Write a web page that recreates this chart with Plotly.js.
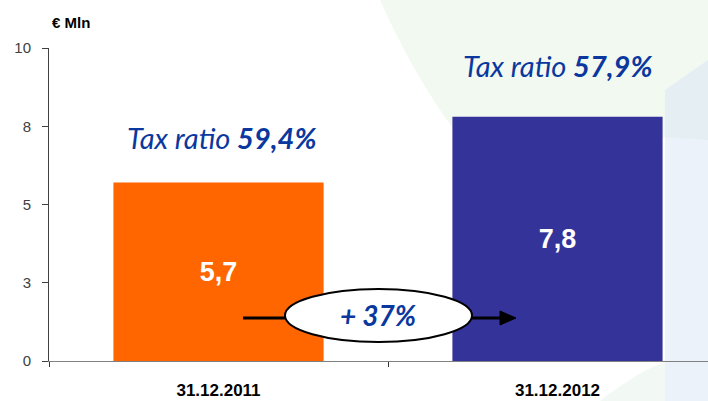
<!DOCTYPE html>
<html>
<head>
<meta charset="utf-8">
<script src="https://cdn.plot.ly/plotly-3.0.1.min.js"></script>
<style>html,body{margin:0;padding:0;background:#fff;}#chart{width:708px;height:401px;}</style>
</head>
<body>
<div id="chart"></div>
<script>
// ---- data ----
const categories = ['31.12.2011', '31.12.2012'];
const values = [5.7, 7.8];
const valueLabels = ['5,7', '7,8'];
const barColors = ['#FF6600', '#333399'];
const taxRatios = ['59,4%', '57,9%'];
const growthLabel = '+ 37%';
const yTickVals = [0, 2.5, 5, 7.5, 10];
const yTickText = ['0', '3', '5', '8', '10'];
const unitLabel = '€ Mln';

// ---- layout helpers (pixel -> paper) ----
const W = 708, H = 401, ML = 49, MR = 0, MT = 48, MB = 40;
const PW = W - ML - MR, PH = H - MT - MB;
const px = p => (p - ML) / PW;
const py = p => (H - MB - p) / PH;

const blue = '#0A389E';

const trace = {
  type: 'bar',
  x: categories,
  y: values,
  text: valueLabels,
  textposition: 'inside',
  insidetextanchor: 'middle',
  textangle: 0,
  textfont: {family: 'Liberation Sans, Arial, sans-serif', size: 27, color: '#ffffff', weight: 'bold'},
  marker: {color: barColors, line: {width: 0}},
  width: 0.62,
  hoverinfo: 'none'
};

const shapes = [
  // faint background decoration
  {type: 'path', xref: 'paper', yref: 'paper', layer: 'below',
   path: `M ${px(380)} ${py(0)} L ${px(708)} ${py(0)} L ${px(708)} ${py(140)} Q ${px(600)} ${py(130)} ${px(470)} ${py(150)} Q ${px(420)} ${py(90)} ${px(380)} ${py(0)} Z`,
   fillcolor: '#e3f1e0', opacity: 0.45, line: {width: 0}},
  {type: 'path', xref: 'paper', yref: 'paper', layer: 'below',
   path: `M ${px(665)} ${py(90)} L ${px(708)} ${py(60)} L ${px(708)} ${py(401)} L ${px(665)} ${py(401)} Z`,
   fillcolor: '#dbe8f4', opacity: 0.55, line: {width: 0}},
  {type: 'path', xref: 'paper', yref: 'paper', layer: 'below',
   path: `M ${px(600)} ${py(401)} Q ${px(640)} ${py(370)} ${px(665)} ${py(362)} L ${px(665)} ${py(401)} Z`,
   fillcolor: '#e6f1e8', opacity: 0.5, line: {width: 0}},
  // growth arrow
  {type: 'line', xref: 'paper', yref: 'paper',
   x0: px(243), x1: px(290), y0: py(318), y1: py(318), line: {color: '#000', width: 3}},
  {type: 'line', xref: 'paper', yref: 'paper',
   x0: px(468), x1: px(502), y0: py(318), y1: py(318), line: {color: '#000', width: 3}},
  {type: 'path', xref: 'paper', yref: 'paper',
   path: `M ${px(516)} ${py(318)} L ${px(500)} ${py(311)} L ${px(500)} ${py(325)} Z`,
   fillcolor: '#000', line: {color: '#000', width: 1}},
  {type: 'circle', xref: 'paper', yref: 'paper',
   x0: px(285), x1: px(472), y0: py(342), y1: py(289),
   fillcolor: '#ffffff', line: {color: '#000', width: 2}}
];

const annotations = [
  {xref: 'paper', yref: 'paper', x: px(50), y: py(22), xanchor: 'left', yanchor: 'middle',
   text: '<b>' + unitLabel + '</b>', showarrow: false,
   font: {family: 'Liberation Sans, Arial, sans-serif', size: 15, color: '#000'}},
  {xref: 'paper', yref: 'paper', x: px(221), y: py(137), xanchor: 'center', yanchor: 'middle',
   text: '<i>Tax ratio <b>' + taxRatios[0] + '</b></i>', showarrow: false,
   font: {family: 'Lato, sans-serif', size: 29, color: blue}},
  {xref: 'paper', yref: 'paper', x: px(557), y: py(65), xanchor: 'center', yanchor: 'middle',
   text: '<i>Tax ratio <b>' + taxRatios[1] + '</b></i>', showarrow: false,
   font: {family: 'Lato, sans-serif', size: 29, color: blue}},
  {xref: 'paper', yref: 'paper', x: px(378), y: py(315), xanchor: 'center', yanchor: 'middle',
   text: '<b><i>' + growthLabel + '</i></b>', showarrow: false,
   font: {family: 'Lato, sans-serif', size: 28, color: blue}}
];

const layout = {
  width: W, height: H,
  margin: {l: ML, r: MR, t: MT, b: MB, pad: 0},
  paper_bgcolor: '#ffffff',
  plot_bgcolor: 'rgba(0,0,0,0)',
  showlegend: false,
  xaxis: {
    type: 'category',
    range: [-0.5, -0.5 + PW / 339],
    showline: true, linecolor: '#808080', linewidth: 1,
    ticks: 'outside', tickson: 'boundaries', ticklen: 5, tickcolor: '#333',
    showgrid: false, zeroline: false,
    tickfont: {family: 'Liberation Sans, Arial, sans-serif', size: 17, color: '#000', weight: 'bold'},
    ticklabelstandoff: 14,
    fixedrange: true
  },
  yaxis: {
    range: [0, 10],
    tickvals: yTickVals, ticktext: yTickText,
    showline: true, linecolor: '#404040', linewidth: 1,
    ticks: 'outside', ticklen: 6, tickcolor: '#404040',
    showgrid: false, zeroline: false,
    tickfont: {family: 'Liberation Sans, Arial, sans-serif', size: 15, color: '#404040'},
    ticklabelstandoff: 8,
    fixedrange: true
  },
  shapes: shapes,
  annotations: annotations
};

Plotly.newPlot('chart', [trace], layout, {displayModeBar: false, staticPlot: true});
</script>
</body>
</html>
